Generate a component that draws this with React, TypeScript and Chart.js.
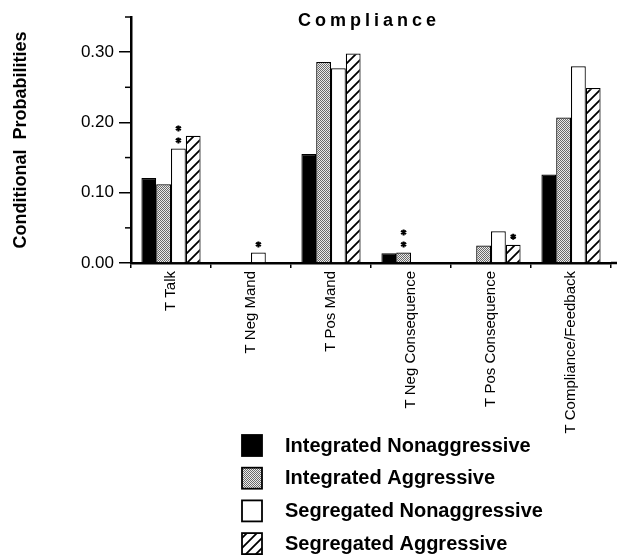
import React, { useEffect, useRef } from "react";
import { Chart, registerables } from "chart.js";

Chart.register(...registerables);

const categories = [
  "T Talk",
  "T Neg Mand",
  "T Pos Mand",
  "T Neg Consequence",
  "T Pos Consequence",
  "T Compliance/Feedback",
];
const seriesNames = [
  "Integrated Nonaggressive",
  "Integrated Aggressive",
  "Segregated Nonaggressive",
  "Segregated Aggressive",
];
const integratedNonaggressive = [0.121, 0, 0.155, 0.014, 0, 0.126];
const integratedAggressive = [0.112, 0, 0.286, 0.015, 0.025, 0.207];
const segregatedNonaggressive = [0.163, 0.015, 0.277, 0, 0.045, 0.28];
const segregatedAggressive = [0.181, 0, 0.298, 0, 0.026, 0.249];
// significance markers: category index, series index, number of asterisks
const markerCategory = [0, 1, 3, 4];
const markerSeries = [2, 2, 1, 3];
const markerCount = [2, 1, 2, 1];
const yTickValues = [0, 0.1, 0.2, 0.3];

const FONT = "'Liberation Sans', Arial, sans-serif";

function makeStipple(): CanvasPattern | string {
  const c = document.createElement("canvas");
  c.width = 2;
  c.height = 2;
  const g = c.getContext("2d")!;
  g.fillStyle = "#ececec";
  g.fillRect(0, 0, 2, 2);
  g.fillStyle = "#6a6a6a";
  g.fillRect(0, 0, 1, 1);
  g.fillRect(1, 1, 1, 1);
  return g.createPattern(c, "repeat") || "#aaa";
}

function makeHatch(): CanvasPattern | string {
  const s = 10;
  const c = document.createElement("canvas");
  c.width = s;
  c.height = s;
  const g = c.getContext("2d")!;
  g.fillStyle = "#fff";
  g.fillRect(0, 0, s, s);
  g.strokeStyle = "#000";
  g.lineWidth = 1.8;
  g.beginPath();
  g.moveTo(-2, s + 2);
  g.lineTo(s + 2, -2);
  g.moveTo(-2, 2);
  g.lineTo(2, -2);
  g.moveTo(s - 2, s + 2);
  g.lineTo(s + 2, s - 2);
  g.stroke();
  return g.createPattern(c, "repeat") || "#fff";
}

const isMajor = (v: number) => Math.abs(v * 10 - Math.round(v * 10)) < 1e-6;

export default function App() {
  const ref = useRef<HTMLCanvasElement | null>(null);

  useEffect(() => {
    document.body.style.margin = "0";
    const canvas = ref.current!;
    const fills = ["#000000", makeStipple(), "#ffffff", makeHatch()];
    const values = [
      integratedNonaggressive,
      integratedAggressive,
      segregatedNonaggressive,
      segregatedAggressive,
    ];

    const decor = {
      id: "decor",
      afterDraw(chart: any) {
        const ctx = chart.ctx as CanvasRenderingContext2D;
        const area = chart.chartArea;
        const y = chart.scales.y;
        ctx.save();
        // minor ticks on y axis
        ctx.strokeStyle = "#000";
        ctx.lineWidth = 1.5;
        y.ticks.forEach((t: any) => {
          if (!isMajor(t.value)) {
            const py = y.getPixelForValue(t.value);
            ctx.beginPath();
            ctx.moveTo(area.left - 6, py);
            ctx.lineTo(area.left, py);
            ctx.stroke();
          }
        });
        // axis extension to the right
        ctx.lineWidth = 2.5;
        ctx.beginPath();
        ctx.moveTo(area.right, area.bottom);
        ctx.lineTo(chart.width, area.bottom);
        ctx.stroke();

        // title
        ctx.fillStyle = "#000";
        ctx.font = `bold 18px ${FONT}`;
        (ctx as any).letterSpacing = "4px";
        ctx.textAlign = "center";
        ctx.textBaseline = "alphabetic";
        ctx.fillText("Compliance", (area.left + area.right) / 2 - 2, 26);
        (ctx as any).letterSpacing = "0px";

        // significance asterisks
        ctx.lineWidth = 2;
        for (let k = 0; k < markerCategory.length; k++) {
          const bar = chart.getDatasetMeta(markerSeries[k]).data[markerCategory[k]];
          for (let n = 0; n < markerCount[k]; n++) {
            const cx = bar.x;
            const cy = bar.y - 8 - n * 12;
            const r = 3;
            ctx.beginPath();
            for (let a = 0; a < 3; a++) {
              const ang = (a * Math.PI) / 3 + Math.PI / 2;
              ctx.moveTo(cx + r * Math.cos(ang), cy + r * Math.sin(ang));
              ctx.lineTo(cx - r * Math.cos(ang), cy - r * Math.sin(ang));
            }
            ctx.stroke();
          }
        }

        // legend
        const lx = 242;
        const ly = 435;
        const pitch = 32.7;
        ctx.font = `bold 20px ${FONT}`;
        ctx.textAlign = "left";
        ctx.textBaseline = "middle";
        seriesNames.forEach((name, i) => {
          const top = ly + i * pitch;
          ctx.fillStyle = fills[i] as any;
          ctx.fillRect(lx, top, 20, 21);
          ctx.strokeStyle = "#000";
          ctx.lineWidth = 1.8;
          ctx.strokeRect(lx, top, 20, 21);
          ctx.fillStyle = "#000";
          ctx.fillText(name, 285, top + 11);
        });
        ctx.restore();
      },
    };

    const chart = new Chart(canvas, {
      type: "bar",
      data: {
        labels: categories,
        datasets: seriesNames.map((name, i) => ({
          label: name,
          data: values[i],
          backgroundColor: fills[i] as any,
          borderColor: "#000",
          borderWidth: 1.2,
          categoryPercentage: 0.74,
          barPercentage: 1.0,
        })),
      },
      options: {
        responsive: false,
        animation: false,
        devicePixelRatio: 1,
        layout: { padding: { top: 17, right: 6, bottom: 0, left: 0 } },
        plugins: {
          legend: { display: false },
          title: { display: false },
          tooltip: { enabled: false },
        },
        scales: {
          x: {
            afterFit: (s: any) => {
              s.height = 295;
            },
            grid: {
              display: true,
              drawOnChartArea: false,
              drawTicks: true,
              tickLength: 5,
              color: "#000",
              lineWidth: 1.5,
            },
            border: { display: true, color: "#000", width: 2.5 },
            ticks: {
              autoSkip: false,
              maxRotation: 90,
              minRotation: 90,
              padding: 3,
              color: "#000",
              font: { size: 15, family: FONT },
            },
          },
          y: {
            min: 0,
            max: 0.35,
            afterFit: (s: any) => {
              s.width = 131;
            },
            ticks: {
              stepSize: 0.025,
              padding: 5,
              color: "#000",
              font: { size: 17, family: FONT },
              callback: (v: any) =>
                isMajor(Number(v)) && yTickValues.some((t) => Math.abs(t - Number(v)) < 1e-6)
                  ? Number(v).toFixed(2)
                  : "",
            },
            grid: {
              drawOnChartArea: false,
              drawTicks: true,
              tickLength: 12,
              lineWidth: 1.5,
              tickColor: (c: any) => (c.tick && isMajor(c.tick.value) ? "#000" : "rgba(0,0,0,0)"),
            },
            border: { display: true, color: "#000", width: 2.5 },
            title: {
              display: true,
              text: "Conditional  Probabilities",
              color: "#000",
              font: { size: 18, weight: "bold", family: FONT },
              padding: { top: 10, bottom: 0 },
            },
          },
        },
      },
      plugins: [decor],
    });
    return () => chart.destroy();
  }, []);

  return (
    <div style={{ width: 617, height: 558 }}>
      <canvas ref={ref} width={617} height={558} style={{ display: "block" }} />
    </div>
  );
}
